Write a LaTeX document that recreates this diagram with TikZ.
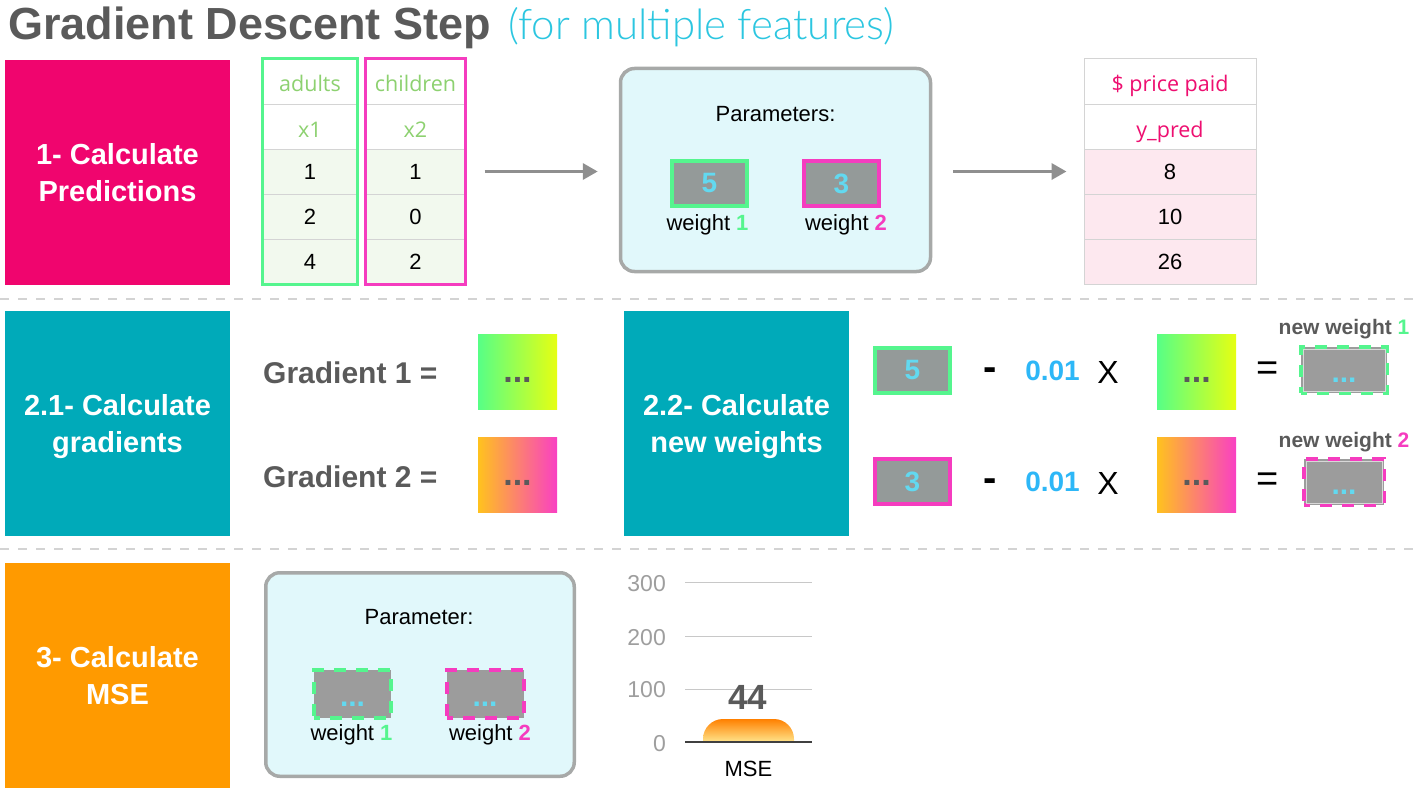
\documentclass[tikz,border=0pt]{standalone}
\usepackage{fontspec}
\setmainfont{Liberation Sans}
\newfontfamily\opensans{Open Sans}
\newfontfamily\lightfont{Lato Light}
\usetikzlibrary{arrows.meta,calc}
\newcommand\fsz[2]{\fontsize{#1}{#2}\selectfont}
\definecolor{stepPink}{HTML}{F0056E}
\definecolor{stepTeal}{HTML}{00AAB9}
\definecolor{stepOrange}{HTML}{FF9A00}
\definecolor{sepGray}{HTML}{D3D3D3}
\definecolor{titleGray}{HTML}{5A5A5A}
\definecolor{titleCyan}{HTML}{2CC6E0}
\definecolor{wGreen}{HTML}{55F58E}
\definecolor{wPink}{HTML}{F53CBF}
\definecolor{hdrGreen}{HTML}{8DD170}
\definecolor{dataGreen}{HTML}{F2F9EE}
\definecolor{dataPink}{HTML}{FDE8EF}
\definecolor{cellGray}{HTML}{D4D4D4}
\definecolor{arrowGray}{HTML}{8F8F8F}
\definecolor{paramFill}{HTML}{E1F8FB}
\definecolor{paramLine}{HTML}{A7A9A8}
\definecolor{wGray}{HTML}{949A99}
\definecolor{numCyan}{HTML}{62D9F0}
\definecolor{rateBlue}{HTML}{2DB7F7}
\definecolor{darkText}{HTML}{5A5A5A}
\definecolor{gOneLeft}{HTML}{57FF86}
\definecolor{gOneRight}{HTML}{E6FF12}
\definecolor{gTwoLeft}{HTML}{FFC21E}
\definecolor{gTwoRight}{HTML}{F940C3}
\definecolor{nwGray}{HTML}{9C9C9C}
\definecolor{nwEdge}{HTML}{D8D8D8}
\definecolor{gridGray}{HTML}{C8C8C8}
\definecolor{axisGray}{HTML}{9E9E9E}
\definecolor{barTop}{HTML}{FF8000}
\definecolor{barBottom}{HTML}{FFE58C}
\definecolor{priceText}{HTML}{EE0E70}
\begin{document}
\begin{tikzpicture}[x=1pt,y=-1pt,
  stepbox/.style={minimum width=225pt,minimum height=225pt,inner sep=0pt},
  steptext/.style={text=white,font=\bfseries\fsz{29}{37},align=center,inner sep=0pt},
  sepline/.style={draw=sepGray,line width=2pt,dash pattern=on 8.5pt off 9.5pt},
  tcell/.style={draw=cellGray,line width=1pt,minimum height=45pt,inner sep=0pt},
  hdrcell/.style={tcell,fill=white,font=\opensans\fsz{21.5}{25},text height=21pt,text depth=0pt},
  numcell/.style={tcell,font=\fsz{22}{26},text height=15pt,text depth=0pt},
  flowarrow/.style={draw=arrowGray,line width=3.5pt,-{Triangle[length=15pt,width=16pt]}},
  parambox/.style={draw=paramLine,line width=3.5pt,fill=paramFill,rounded corners=14pt,inner sep=0pt},
  bodytext/.style={font=\fsz{22}{26},inner sep=0pt},
  wbox/.style={fill=wGray,line width=4pt,minimum width=75pt,minimum height=45pt,inner sep=0pt,text=numCyan,font=\bfseries\fsz{28}{32}},
  nwbox/.style={fill=nwGray,line width=4pt,dash pattern=on 12pt off 10pt,dash phase=6pt,inner sep=0pt},
  nwedge/.style={draw=nwEdge,line width=1pt},
  newdots/.style={text=numCyan,font=\bfseries\fsz{30}{34},inner sep=0pt},
  gradbox/.style={minimum width=79pt,minimum height=75pt,inner sep=0pt},
  graddots/.style={text=darkText,font=\bfseries\fsz{34}{38},inner sep=0pt},
  gradlabel/.style={text=darkText,font=\bfseries\fsz{30}{34},inner sep=0pt},
  optext/.style={inner sep=0pt},
  minustext/.style={inner sep=0pt,font=\bfseries\fsz{40}{44}},
  ratetext/.style={text=rateBlue,font=\bfseries\fsz{28}{32},inner sep=0pt},
  newlabel/.style={text=darkText,font=\bfseries\fsz{21}{25},inner sep=0pt},
  axislabel/.style={text=axisGray,font=\fsz{23}{27},inner sep=0pt,anchor=east},
  gridline/.style={draw=gridGray,line width=1pt}
]
\useasboundingbox (0,0) rectangle (1421,792);

% title
\node[anchor=base west,inner sep=0pt,text=titleGray,font=\bfseries\fsz{45}{50}] (title) at (8,40) {Gradient Descent Step};
\node[anchor=base west,inner sep=0pt,text=titleCyan,font=\lightfont\fsz{42}{48}] (subtitle) at (508,40) {(for multiple features)};

% step boxes
\node[stepbox,fill=stepPink] (s1) at (117.5,172.5) {};
\node[steptext] (s1t) at ($(s1.center)+(0,3)$) {1- Calculate\\Predictions\vphantom{g}};
\node[stepbox,fill=stepTeal] (s21) at (117.5,423.5) {};
\node[steptext] (s21t) at ($(s21.center)+(0,3)$) {2.1- Calculate\\gradients};
\node[stepbox,fill=stepTeal] (s22) at (736.5,423.5) {};
\node[steptext] (s22t) at ($(s22.center)+(0,3)$) {2.2- Calculate\\new weights};
\node[stepbox,fill=stepOrange] (s3) at (117.5,675.5) {};
\node[steptext] (s3t) at ($(s3.center)+(0,3)$) {3- Calculate\\MSE\vphantom{g}};

% separators
\draw[sepline] (0,299) -- (1421,299);
\draw[sepline] (0,549) -- (1421,549);

% adults table
\node[hdrcell,minimum width=94pt,text=hdrGreen] (a0) at (310,81.5) {adults};
\node[hdrcell,minimum width=94pt,text=hdrGreen] (a1) at (310,126.5) {x1};
\node[numcell,minimum width=94pt,fill=dataGreen] (a2) at (310,171.5) {1};
\node[numcell,minimum width=94pt,fill=dataGreen] (a3) at (310,216.5) {2};
\node[numcell,minimum width=94pt,fill=dataGreen] (a4) at (310,261.5) {4};
\draw[draw=wGreen,line width=3.5pt] (a0.north west) rectangle (a4.south east);
% children table
\node[hdrcell,minimum width=99pt,text=hdrGreen] (c0) at (415.5,81.5) {children};
\node[hdrcell,minimum width=99pt,text=hdrGreen] (c1) at (415.5,126.5) {x2};
\node[numcell,minimum width=99pt,fill=dataGreen] (c2) at (415.5,171.5) {1};
\node[numcell,minimum width=99pt,fill=dataGreen] (c3) at (415.5,216.5) {0};
\node[numcell,minimum width=99pt,fill=dataGreen] (c4) at (415.5,261.5) {2};
\draw[draw=wPink,line width=3.5pt] (c0.north west) rectangle (c4.south east);

% parameters box
\node[parambox,minimum width=310pt,minimum height=203pt] (params) at (775.5,170) {};
\node[bodytext] (paramtitle) at (775.5,114) {Parameters:};
\node[wbox,draw=wGreen] (w1) at (709.5,183.5) {5};
\node[wbox,draw=wPink] (w2) at (841.5,183.5) {3};
\node[bodytext] (w1lab) at (707.5,225) {weight \textbf{\textcolor{wGreen}{1}}};
\node[bodytext] (w2lab) at (846,225) {weight \textbf{\textcolor{wPink}{2}}};

% prediction table
\node[hdrcell,minimum width=172pt,text=priceText] (y0) at (1170,81.5) {\$ price paid};
\node[hdrcell,minimum width=172pt,text=priceText] (y1) at (1170,126.5) {y\_pred};
\node[numcell,minimum width=172pt,fill=dataPink] (y2) at (1170,171.5) {8};
\node[numcell,minimum width=172pt,fill=dataPink] (y3) at (1170,216.5) {10};
\node[numcell,minimum width=172pt,fill=dataPink] (y4) at (1170,261.5) {26};

% arrows
\draw[flowarrow,shorten <=19pt,shorten >=21pt] (c2.east) -- (c2.east -| params.west);
\draw[flowarrow,shorten <=21pt,shorten >=17pt] (params.east |- y2.west) -- (y2.west);

% gradients
\node[gradlabel,anchor=west] (g1lab) at (263,372.5) {Gradient 1 =};
\node[gradlabel,anchor=west] (g2lab) at (263,477) {Gradient 2 =};
\node[gradbox,left color=gOneLeft,right color=gOneRight] (g1) at (517.5,371.5) {};
\node[graddots] (g1dots) at ($(g1.center)+(0,8)$) {...};
\node[gradbox,left color=gTwoLeft,right color=gTwoRight] (g2) at (517.5,474.5) {};
\node[graddots] (g2dots) at ($(g2.center)+(0,8)$) {...};

% new weights row 1
\node[wbox,draw=wGreen] (e1w) at (912.5,370.5) {5};
\node[minustext] (e1minus) at (990,374.5) {-};
\node[ratetext] (e1rate) at (1052.5,370.5) {0.01};
\node[optext,font=\fsz{32}{36}] (e1x) at (1108,372) {X};
\node[gradbox,left color=gOneLeft,right color=gOneRight] (e1g) at (1196.5,371.5) {};
\node[graddots] (e1gdots) at ($(e1g.center)+(0,8)$) {...};
\node[optext,font=\fsz{38}{42}] (e1eq) at (1267.5,371) {=};
\node[nwbox,draw=wGreen,minimum width=86pt,minimum height=46pt] (e1new) at (1344,370) {};
\draw[nwedge] ($(e1new.south west)+(4,-4)$) rectangle ($(e1new.north east)+(-4,4)$);
\node[newdots] (e1newdots) at ($(e1new.center)+(0,10)$) {...};
\node[newlabel] (e1lab) at (1344,329) {new weight \textcolor{wGreen}{1}};

% new weights row 2
\node[wbox,draw=wPink] (e2w) at (912.5,481.5) {3};
\node[minustext] (e2minus) at (990,485.5) {-};
\node[ratetext] (e2rate) at (1052.5,482) {0.01};
\node[optext,font=\fsz{32}{36}] (e2x) at (1108,483) {X};
\node[gradbox,left color=gTwoLeft,right color=gTwoRight] (e2g) at (1196.5,474.5) {};
\node[graddots] (e2gdots) at ($(e2g.center)+(0,8)$) {...};
\node[optext,font=\fsz{38}{42}] (e2eq) at (1267.5,482) {=};
\node[nwbox,draw=wPink,minimum width=80pt,minimum height=46pt] (e2new) at (1344,482) {};
\draw[nwedge] ($(e2new.south west)+(4,-4)$) rectangle ($(e2new.north east)+(-4,4)$);
\node[newdots] (e2newdots) at ($(e2new.center)+(0,10)$) {...};
\node[newlabel] (e2lab) at (1344,442) {new weight \textcolor{wPink}{2}};

% parameter box row 3
\node[parambox,minimum width=308.5pt,minimum height=203.5pt] (params3) at (420,674.5) {};
\node[bodytext] (p3title) at (419,617) {Parameter:};
\node[nwbox,draw=wGreen,minimum width=77pt,minimum height=48pt] (m1) at (352.5,694) {};
\node[newdots] (m1dots) at ($(m1.center)+(0,10)$) {...};
\node[nwbox,draw=wPink,minimum width=77pt,minimum height=48pt] (m2) at (485,694) {};
\node[newdots] (m2dots) at ($(m2.center)+(0,10)$) {...};
\node[bodytext] (m1lab) at (351.5,735) {weight \textbf{\textcolor{wGreen}{1}}};
\node[bodytext] (m2lab) at (490,735) {weight \textbf{\textcolor{wPink}{2}}};

% chart
\node[axislabel] (t300) at (666,584) {300};
\node[axislabel] (t200) at (666,637.5) {200};
\node[axislabel] (t100) at (666,690) {100};
\node[axislabel] (t0) at (666,744) {0};
\draw[gridline] (685,582) -- (812,582);
\draw[gridline] (685,636) -- (812,636);
\draw[gridline] (685,689) -- (812,689);
\shade[top color=barTop,bottom color=barBottom] (703,742) [rounded corners=20pt] -- (703,719) -- (794,719) [sharp corners] -- (794,742) -- cycle;
\draw[draw=black!75,line width=1.3pt] (685,742) -- (812,742);
\node[inner sep=0pt,text=darkText,font=\bfseries\fsz{35}{40}] (mseval) at (747.5,697.5) {44};
\node[bodytext] (mselab) at (748.5,769) {MSE};
\end{tikzpicture}
\end{document}
